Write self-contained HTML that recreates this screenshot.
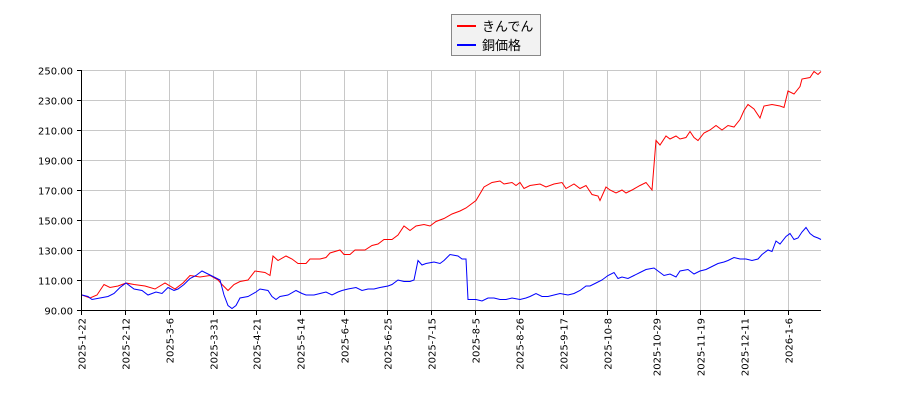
<!DOCTYPE html>
<html><head><meta charset="utf-8"><style>
body{margin:0;background:#fff;}
svg text{font-family:"DejaVu Sans","Liberation Sans","Noto Sans CJK JP",sans-serif;}
</style></head><body>
<svg id="s" width="900" height="400" xmlns="http://www.w3.org/2000/svg">
<rect width="900" height="400" fill="#fff"/>
<g id="grid" stroke="#c8c8c8" stroke-width="1"></g>
<g id="lab" font-size="10" fill="#000"></g>
<polyline id="red" fill="none" stroke="#ff0000" stroke-width="1"/>
<polyline id="blue" fill="none" stroke="#0000ff" stroke-width="1"/>
<line x1="81.5" y1="70" x2="81.5" y2="310.5" stroke="#000"/>
<line x1="81" y1="310.5" x2="821" y2="310.5" stroke="#000"/>
<rect x="451.5" y="14.5" width="89" height="41" fill="#f2f2f2" stroke="#888"/>
<line x1="457" y1="26" x2="476" y2="26" stroke="#ff0000" stroke-width="2"/>
<line x1="457" y1="45" x2="476" y2="45" stroke="#0000ff" stroke-width="2"/>
<text x="482" y="31" font-size="13" style="font-family:'Noto Sans CJK JP',sans-serif">きんでん</text>
<text x="482" y="50" font-size="13" style="font-family:'Noto Sans CJK JP',sans-serif">銅価格</text>
</svg>
<script>
var ns="http://www.w3.org/2000/svg";
function Y(v){return 310-(v-90)*1.5;}
var g=document.getElementById('grid'),lab=document.getElementById('lab');
for(var v=90;v<=250;v+=20){var y=Y(v)+0.5;
 var l=document.createElementNS(ns,'line');l.setAttribute('x1',81);l.setAttribute('x2',821);l.setAttribute('y1',y);l.setAttribute('y2',y);g.appendChild(l);
 var t=document.createElementNS(ns,'line');t.setAttribute('x1',77);t.setAttribute('x2',81);t.setAttribute('y1',y);t.setAttribute('y2',y);t.setAttribute('stroke','#000');lab.appendChild(t);
 var tx=document.createElementNS(ns,'text');tx.setAttribute('x',73);tx.setAttribute('y',y+4);tx.setAttribute('text-anchor','end');tx.textContent=v.toFixed(2);lab.appendChild(tx);}
var xt=[[81,'2025-1-22'],[125,'2025-2-12'],[169,'2025-3-6'],[213,'2025-3-31'],[256,'2025-4-21'],[300,'2025-5-14'],[344,'2025-6-4'],[387,'2025-6-25'],[431,'2025-7-15'],[475,'2025-8-5'],[519,'2025-8-26'],[563,'2025-9-17'],[607,'2025-10-8'],[656,'2025-10-29'],[700,'2025-11-19'],[744,'2025-12-11'],[788,'2026-1-6']];
xt.forEach(function(p){var x=p[0]+0.5;
 if(p[0]>82){var l=document.createElementNS(ns,'line');l.setAttribute('x1',x);l.setAttribute('x2',x);l.setAttribute('y1',70);l.setAttribute('y2',310);g.appendChild(l);}
 var t=document.createElementNS(ns,'line');t.setAttribute('x1',x);t.setAttribute('x2',x);t.setAttribute('y1',310);t.setAttribute('y2',315);t.setAttribute('stroke','#000');lab.appendChild(t);
 var tx=document.createElementNS(ns,'text');tx.setAttribute('transform','translate('+(x+4)+',318) rotate(-90)');tx.setAttribute('text-anchor','end');tx.textContent=p[1];lab.appendChild(tx);});
var red=[82,100,90,98,97,100,104,107,110,105,118,106,126,108,134,107,145,106,155,104,165,108,175,104,183,108,190,113,200,112,210,113,218,110,222,107,228,103,234,107,240,109,248,110,255,116,265,115,270,113,273,126,278,123,286,126,292,124,298,121,306,121,310,124,320,124,326,125,330,128,340,130,344,127,350,127,355,130,365,130,372,133,378,134,384,137,392,137,398,140,404,146,410,143,416,146,424,147,430,146,436,149,444,151,452,154,460,156,466,158,476,163,484,172,492,175,500,176,504,174,512,175,516,173,520,175,524,171,530,173,540,174,546,172,554,174,562,175,566,171,574,174,580,171,586,173,592,167,598,166,600,163,606,172,610,170,616,168,622,170,626,168,632,170,640,173,646,175,652,170,656,203,660,200,666,206,670,204,676,206,680,204,686,205,690,209,694,205,698,203,704,208,710,210,716,213,722,210,728,213,734,212,740,217,744,223,748,227,754,224,760,218,764,226,772,227,780,226,784,225,788,236,794,234,800,239,802,244,810,245,814,249,818,247,821,249];
var blue=[82,100,88,99,92,97,100,98,108,99,114,101,120,105,126,108,134,104,142,103,148,100,156,102,162,101,168,105,174,103,178,104,184,107,190,111,196,113,202,116,208,114,214,112,220,110,224,100,228,93,232,91,236,93,240,98,248,99,256,102,260,104,268,103,272,99,276,97,280,99,288,100,296,103,302,101,306,100,314,100,320,101,326,102,332,100,338,102,342,103,348,104,356,105,362,103,368,104,374,104,380,105,388,106,392,107,398,110,404,109,410,109,414,110,418,123,422,120,426,121,434,122,440,121,444,123,450,127,458,126,462,124,466,124,468,97,476,97,482,96,488,98,494,98,500,97,506,97,512,98,520,97,526,98,530,99,536,101,542,99,548,99,554,100,560,101,568,100,574,101,580,103,586,106,590,106,596,108,602,110,608,113,614,115,618,111,622,112,628,111,634,113,640,115,646,117,654,118,658,116,664,113,670,114,676,112,680,116,688,117,694,114,700,116,706,117,712,119,718,121,724,122,728,123,734,125,740,124,746,124,752,123,758,124,762,127,768,130,772,129,776,136,780,134,786,139,790,141,794,137,798,138,802,142,806,145,810,141,814,139,818,138,821,137];
function pts(a){var s=[];for(var i=0;i<a.length;i+=2)s.push(a[i]+','+Y(a[i+1]).toFixed(1));return s.join(' ');}
document.getElementById('red').setAttribute('points',pts(red));
document.getElementById('blue').setAttribute('points',pts(blue));
</script>
</body></html>
